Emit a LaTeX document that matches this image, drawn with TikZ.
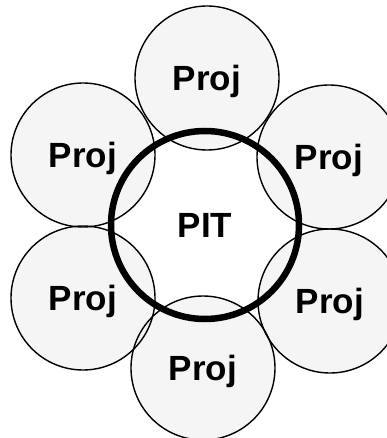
\documentclass[tikz,border=0pt]{standalone}
\usepackage{fontspec}
\setmainfont{Liberation Sans}
\definecolor{projfill}{RGB}{245,245,245}
\begin{document}
\begin{tikzpicture}[x=1pt,y=-1pt,
  proj/.style={circle,fill=projfill,minimum size=144pt,inner sep=0pt,
    font=\fontsize{35}{35}\selectfont\bfseries,text height=25pt,text depth=0pt},
  projline/.style={line width=1.4pt},
  pit/.style={circle,draw,line width=6.5pt,minimum size=188pt,inner sep=0pt,
    font=\fontsize{35}{35}\selectfont\bfseries,text height=25pt,text depth=0pt}]
\useasboundingbox[fill=white] (0,0) rectangle (387,438);
\node[proj] (p1) at (207,78) {Proj};
\node[proj] (p2) at (83,155) {Proj};
\node[proj] (p3) at (329,157) {Proj};
\node[proj] (p4) at (83,298) {Proj};
\node[proj] (p5) at (330,301) {Proj};
\node[proj] (p6) at (203,368) {Proj};
\foreach \n in {p1,p2,p3,p4,p5,p6}
  \draw[projline] (\n.center) circle (72);
\node[pit] (pit) at (205,225) {PIT};
\end{tikzpicture}
\end{document}
